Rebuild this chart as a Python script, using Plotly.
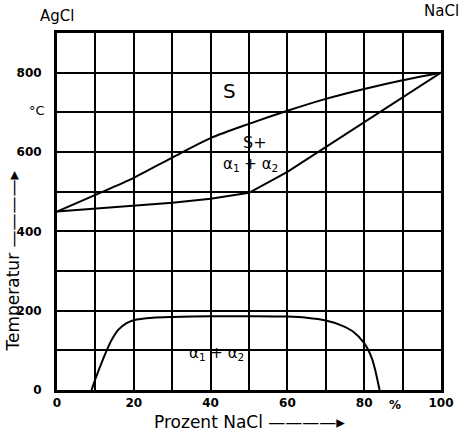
import plotly.graph_objects as go

# Data
liq_x = [0, 10, 20, 30, 40, 50, 60, 70, 80, 90, 100]
liq_t = [450, 492, 535, 586, 635, 671, 704, 734, 759, 781, 800]

sol_x = [0, 10, 20, 30, 40, 50, 60, 70, 80, 90, 100]
sol_t = [450, 457, 464, 472, 482, 497, 550, 612, 675, 738, 800]

gap_x = [9, 10, 12, 14, 16, 18, 20, 25, 30, 40, 50, 60, 65, 70, 74, 77, 80, 82, 83, 84]
gap_t = [0, 28, 78, 122, 152, 168, 176, 182, 184, 186, 186, 185, 182, 175, 163, 148, 118, 80, 45, 0]

x_ticks = [0, 20, 40, 60, 80, 100]
y_ticks = [0, 200, 400, 600, 800]

FONT = "DejaVu Sans"
line = dict(color="black", width=2)

fig = go.Figure()
fig.add_trace(go.Scatter(x=liq_x, y=liq_t, mode="lines", line=dict(color="black", width=2, shape="spline", smoothing=0.8), hoverinfo="skip"))
fig.add_trace(go.Scatter(x=sol_x, y=sol_t, mode="lines", line=line, hoverinfo="skip"))
fig.add_trace(go.Scatter(x=gap_x, y=gap_t, mode="lines", line=dict(color="black", width=2, shape="spline", smoothing=0.8), hoverinfo="skip"))

ann = [
    dict(x=45, y=755, text="S", size=20),
    dict(x=51.5, y=625, text="S+", size=16),
    dict(x=50.5, y=568, text="α<sub>1</sub> + α<sub>2</sub>", size=15),
    dict(x=41.5, y=93, text="α<sub>1</sub> + α<sub>2</sub>", size=15),
    dict(x=88, y=0, yshift=-15, text="<b>%</b>", size=12),
]
annotations = []
for a in ann:
    d = dict(xref="x", yref="y", showarrow=False, font=dict(family=FONT, color="black", size=a["size"]))
    d.update({k: v for k, v in a.items() if k != "size"})
    annotations.append(d)

annotations += [
    dict(xref="paper", yref="paper", x=0.0, y=1.0, yshift=6, xanchor="center", yanchor="bottom",
         text="AgCl", showarrow=False, font=dict(family=FONT, size=15, color="black")),
    dict(xref="paper", yref="paper", x=1.0, y=1.0, yshift=11, xanchor="center", yanchor="bottom",
         text="NaCl", showarrow=False, font=dict(family=FONT, size=15, color="black")),
    dict(xref="paper", yref="y", x=0, y=705, xshift=-30, text="°C", showarrow=False,
         font=dict(family=FONT, size=13, color="black")),
    dict(xref="paper", yref="paper", x=0.5, y=0, yshift=-32, xanchor="center", yanchor="middle",
         text="Prozent NaCl ————▸", showarrow=False, font=dict(family=FONT, size=17, color="black")),
    dict(xref="paper", yref="paper", x=0, xshift=-44, y=0.36, xanchor="center", yanchor="middle",
         textangle=-90, text="Temperatur ————▸", showarrow=False,
         font=dict(family=FONT, size=17, color="black")),
]

axis_common = dict(showgrid=True, gridcolor="black", gridwidth=2, zeroline=False,
                   showline=True, linecolor="black", linewidth=3, mirror=True,
                   ticks="", tickfont=dict(family=FONT, size=12, color="black"))

fig.update_layout(
    width=466, height=438,
    margin=dict(l=57, r=22, t=33, b=48),
    paper_bgcolor="white", plot_bgcolor="white",
    showlegend=False,
    xaxis=dict(range=[0, 100], tickvals=x_ticks, ticktext=["<b>%d</b>" % v for v in x_ticks],
               minor=dict(dtick=10, showgrid=True, gridcolor="black", gridwidth=2),
               **axis_common),
    yaxis=dict(range=[0, 900], tickvals=y_ticks, ticktext=["<b>%d</b>" % v for v in y_ticks],
               ticklabelstandoff=10,
               minor=dict(dtick=100, showgrid=True, gridcolor="black", gridwidth=2),
               **axis_common),
    annotations=annotations,
    font=dict(family=FONT, color="black"),
)

fig.write_html("out.html", config={"displayModeBar": False, "staticPlot": True},
               post_script="document.body.style.margin='0';document.body.style.overflow='hidden';")
